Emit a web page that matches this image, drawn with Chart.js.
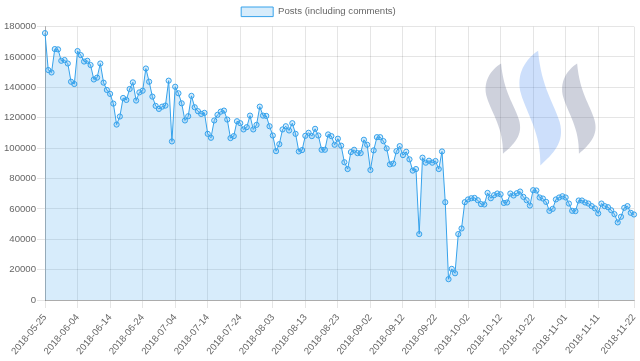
<!DOCTYPE html>
<html>
<head>
<meta charset="utf-8">
<script src="https://cdn.jsdelivr.net/npm/chart.js@4.4.1/dist/chart.umd.min.js"></script>
<style>
  html, body { margin: 0; padding: 0; background: #ffffff; }
  #wrap { position: relative; width: 640px; height: 361px; }
</style>
</head>
<body>
<div id="wrap"><canvas id="c"></canvas></div>
<script>
// ---- data ----
const startDate = "2018-05-25";
const dayCount = 182;
const seriesLabel = "Posts (including comments)";
const posts = [
  175700, 151400, 149800, 165200, 165000, 157500, 158000, 155700, 143700, 142200,
  163900, 161200, 157000, 157500, 154700, 145200, 146400, 155700, 143100, 138300,
  135700, 129300, 115500, 120800, 133000, 131700, 138900, 143300, 131300, 136700,
  137800, 152400, 143700, 133900, 127800, 125800, 127300, 128000, 144400, 104400,
  140400, 136100, 129500, 118200, 121000, 134400, 126900, 124300, 122500, 123200,
  109400, 106800, 118200, 121900, 124000, 124700, 118800, 106600, 107900, 117700,
  116400, 112300, 113800, 121400, 112300, 115300, 127300, 121400, 121200, 114400,
  108300, 98000, 102600, 112300, 114400, 111600, 116400, 109400, 97800, 98700,
  108100, 110100, 107900, 112700, 108300, 98900, 98900, 109000, 107900, 102200,
  106200, 101600, 90700, 86200, 97400, 98900, 96700, 96700, 105500, 102200,
  85600, 98500, 107200, 107200, 104600, 99800, 89300, 89800, 98000, 101300,
  95400, 97600, 92600, 85200, 86200, 43400, 93700, 90400, 91700, 90400,
  91500, 86200, 97800, 64400, 13700, 20500, 17600, 43400, 47100, 64400,
  66200, 67000, 67200, 65700, 63100, 62900, 70500, 67000, 69000, 70100,
  69600, 63900, 64200, 70100, 68800, 70300, 71400, 67900, 65700, 62200,
  72300, 72100, 67500, 66800, 64600, 58700, 60000, 66200, 67500, 68300,
  67500, 63500, 58700, 58500, 65500, 65500, 64200, 63500, 61800, 60300,
  57000, 63500, 61800, 61100, 59100, 56500, 51100, 54800, 60700, 61800,
  57400, 56300
];
const yTicks = { min: 0, max: 180000, step: 20000 };
const labelEvery = 10;

// category labels (dates)
const dates = [];
{
  const t0 = Date.parse(startDate + "T00:00:00Z");
  for (let i = 0; i < dayCount; i++) {
    dates.push(new Date(t0 + i * 86400000).toISOString().slice(0, 10));
  }
}

const BLUE = "rgb(54, 162, 235)";
const BLUE_FILL = "rgba(54, 162, 235, 0.2)";
const FONT = { family: "'Liberation Sans', Arial, Helvetica, sans-serif", size: 9.6 };

// decorative background logo (three swooshes)
const logoPlugin = {
  id: "steemLogo",
  beforeDatasetsDraw(chart) {
    const ctx = chart.ctx;
    const a = chart.chartArea;
    const W = a.right - a.left, H = a.bottom - a.top;
    const shapes = [
      { x: 0.746, y: 0.135, w: 0.063, h: 0.33, c: "rgba(80, 88, 130, 0.28)" },
      { x: 0.803, y: 0.088, w: 0.076, h: 0.42, c: "rgba(60, 130, 240, 0.26)" },
      { x: 0.876, y: 0.135, w: 0.061, h: 0.33, c: "rgba(80, 88, 130, 0.28)" }
    ];
    ctx.save();
    for (const s of shapes) {
      const ox = a.left + s.x * W, oy = a.top + s.y * H, w = s.w * W, h = s.h * H;
      const P = (u, v) => [ox + u * w, oy + v * h];
      ctx.beginPath();
      ctx.moveTo(...P(0.45, 0));
      ctx.bezierCurveTo(...P(0.18, 0.07), ...P(-0.06, 0.2), ...P(0.07, 0.38));
      ctx.bezierCurveTo(...P(0.2, 0.55), ...P(0.52, 0.72), ...P(0.5, 1.0));
      ctx.bezierCurveTo(...P(0.78, 0.9), ...P(1.06, 0.8), ...P(0.93, 0.62));
      ctx.bezierCurveTo(...P(0.8, 0.45), ...P(0.52, 0.32), ...P(0.45, 0));
      ctx.closePath();
      ctx.fillStyle = s.c;
      ctx.fill();
    }
    ctx.restore();
  }
};

new Chart(document.getElementById("c"), {
  type: "line",
  data: {
    labels: dates,
    datasets: [{
      label: seriesLabel,
      data: posts,
      borderColor: BLUE,
      backgroundColor: BLUE_FILL,
      borderWidth: 1,
      fill: true,
      tension: 0,
      pointRadius: 2.6,
      pointBorderWidth: 1,
      pointBackgroundColor: BLUE_FILL,
      pointBorderColor: BLUE
    }]
  },
  options: {
    responsive: true,
    maintainAspectRatio: false,
    animation: false,
    layout: { padding: { left: 3, right: 6, top: 0, bottom: 0 } },
    plugins: {
      legend: {
        display: true,
        position: "top",
        labels: {
          boxWidth: 32,
          boxHeight: 9.6,
          padding: 7,
          color: "#666",
          font: { family: FONT.family, size: FONT.size, lineHeight: 1 }
        }
      },
      tooltip: { enabled: false }
    },
    scales: {
      x: {
        afterBuildTicks(scale) {
          const n = dates.length;
          scale.ticks = scale.ticks.filter(t =>
            (t.value % labelEvery === 0 && t.value + labelEvery < n) || t.value === n - 1);
        },
        afterFit(scale) {
          scale.paddingLeft = 0;
          scale.paddingRight = 0;
        },
        ticks: {
          autoSkip: false,
          minRotation: 50,
          maxRotation: 50,
          color: "#666",
          font: FONT,
          padding: 4
        },
        grid: { color: "rgba(0,0,0,0.1)", tickLength: 8 },
        border: { color: "rgba(0,0,0,0.25)" }
      },
      y: {
        min: yTicks.min,
        max: yTicks.max,
        ticks: {
          stepSize: yTicks.step,
          color: "#666",
          font: FONT,
          padding: 1,
          callback: (v) => String(v)
        },
        grid: { color: "rgba(0,0,0,0.1)", tickLength: 8 },
        border: { color: "rgba(0,0,0,0.25)" }
      }
    }
  },
  plugins: [logoPlugin]
});
</script>
</body>
</html>
